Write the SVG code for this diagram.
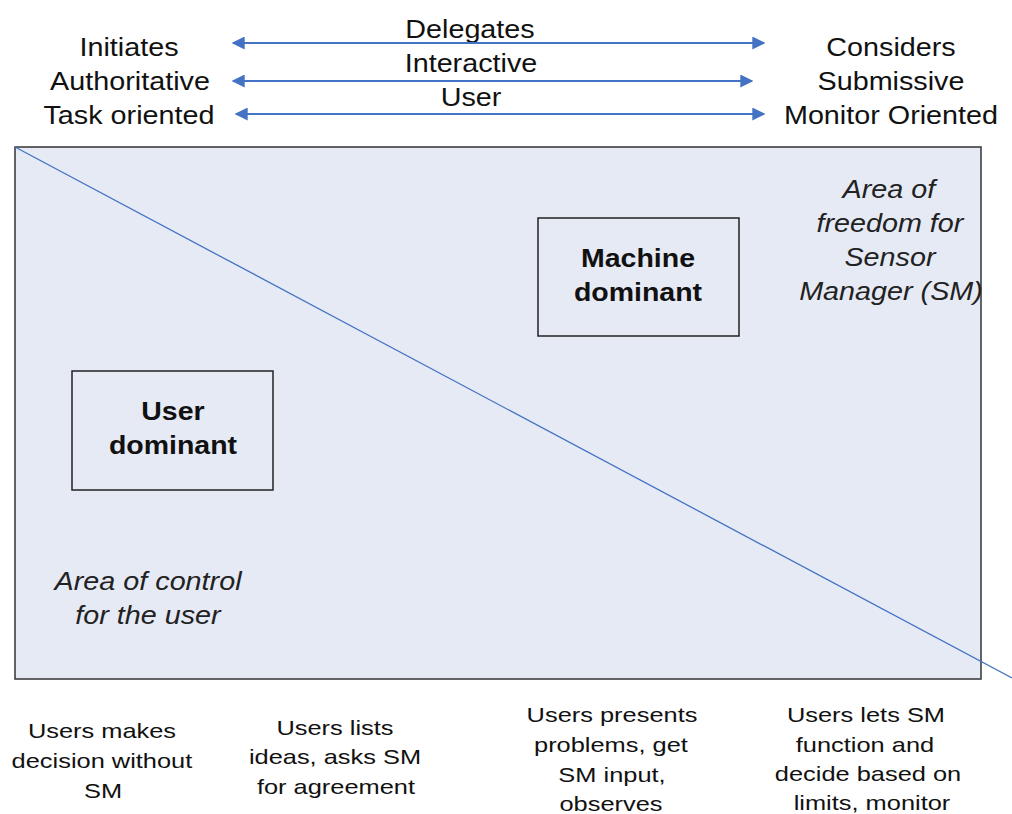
<svg xmlns="http://www.w3.org/2000/svg" width="1012" height="814" viewBox="0 0 1012 814">
  <style>
    text { font-family: "Liberation Sans", Arial, sans-serif; fill: #111; text-anchor: middle;
           transform-box: fill-box; transform-origin: center; }
    .t { font-size: 25px; transform: scaleX(1.15); }
    .it { font-size: 25px; font-style: italic; fill: #222; transform: scaleX(1.15); }
    .b { font-size: 25px; font-weight: bold; transform: scaleX(1.14); }
    .s { font-size: 21px; transform: scaleX(1.21); }
    .arrow { stroke: #4472C4; stroke-width: 2; fill: none; marker-start: url(#ah); marker-end: url(#ah); }
    .box { fill: none; stroke: #222; stroke-width: 1.5; }
  </style>
  <defs>
    <marker id="ah" viewBox="0 0 10 10" refX="9" refY="5" markerWidth="6.5" markerHeight="6.5" orient="auto-start-reverse">
      <path d="M0,0 L10,5 L0,10 z" fill="#4472C4"/>
    </marker>
  </defs>
  <rect width="1012" height="814" fill="#ffffff"/>

  <!-- main field -->
  <g id="field">
    <rect x="15" y="147" width="966" height="532" fill="#E6EAF5" stroke="#333" stroke-width="1.5"/>
  </g>

  <!-- scale labels -->
  <g id="left-labels">
    <text class="t" x="129" y="56">Initiates</text>
    <text class="t" x="130" y="90">Authoritative</text>
    <text class="t" x="129" y="124">Task oriented</text>
  </g>
  <g id="right-labels">
    <text class="t" x="891" y="56">Considers</text>
    <text class="t" x="891" y="90">Submissive</text>
    <text class="t" x="891" y="124">Monitor Oriented</text>
  </g>
  <g id="middle-labels">
    <text class="t" x="470" y="38">Delegates</text>
    <text class="t" x="471" y="72">Interactive</text>
    <text class="t" x="471" y="106">User</text>
  </g>

  <!-- connectors -->
  <g id="connectors">
    <line class="arrow" x1="233" y1="43" x2="764" y2="43"/>
    <line class="arrow" x1="233" y1="81" x2="752" y2="81"/>
    <line class="arrow" x1="236" y1="114" x2="764" y2="114"/>
    <line x1="15" y1="147" x2="1012" y2="678" stroke="#4472C4" stroke-width="1.3"/>
  </g>

  <g id="machine-dominant">
    <rect class="box" x="538" y="218" width="201" height="118"/>
    <text class="b" x="638" y="267">Machine</text>
    <text class="b" x="638" y="301">dominant</text>
  </g>
  <g id="user-dominant">
    <rect class="box" x="72" y="371" width="201" height="119"/>
    <text class="b" x="173" y="420">User</text>
    <text class="b" x="173" y="454">dominant</text>
  </g>

  <g id="area-sm">
    <text class="it" x="889" y="198">Area of</text>
    <text class="it" x="890" y="232">freedom for</text>
    <text class="it" x="890" y="266">Sensor</text>
    <text class="it" x="891" y="300">Manager (SM)</text>
  </g>
  <g id="area-user">
    <text class="it" x="148" y="590">Area of control</text>
    <text class="it" x="148" y="624">for the user</text>
  </g>

  <!-- bottom scale descriptions -->
  <g id="desc-1">
    <text class="s" x="102" y="738">Users makes</text>
    <text class="s" x="102" y="768">decision without</text>
    <text class="s" x="103" y="798">SM</text>
  </g>
  <g id="desc-2">
    <text class="s" x="335" y="735">Users lists</text>
    <text class="s" x="335" y="764">ideas, asks SM</text>
    <text class="s" x="336" y="794">for agreement</text>
  </g>
  <g id="desc-3">
    <text class="s" x="612" y="722">Users presents</text>
    <text class="s" x="611" y="752">problems, get</text>
    <text class="s" x="612" y="782">SM input,</text>
    <text class="s" x="611" y="811">observes</text>
  </g>
  <g id="desc-4">
    <text class="s" x="866" y="722">Users lets SM</text>
    <text class="s" x="865" y="752">function and</text>
    <text class="s" x="868" y="781">decide based on</text>
    <text class="s" x="872" y="810">limits, monitor</text>
  </g>
</svg>
